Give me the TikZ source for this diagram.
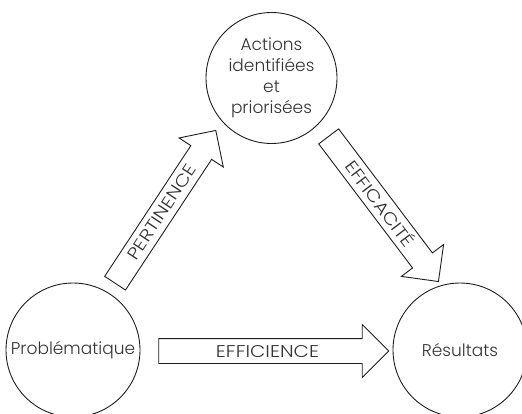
\documentclass[tikz,border=0pt]{standalone}
\usepackage{fontspec}
\setmainfont{Poppins Light}
\usetikzlibrary{shapes.arrows}
\definecolor{ink}{HTML}{1E1E1E}
\definecolor{txt}{HTML}{333333}
\tikzset{
  stage/.style={circle, draw=ink, line width=0.9pt, text=txt,
    inner sep=0pt, align=center, font=\fontsize{17}{21}\selectfont},
  blockarrow/.style={single arrow, draw=ink, line width=0.9pt, text=txt,
    single arrow head extend=14pt, single arrow head indent=0pt,
    font=\fontsize{17}{19}\selectfont\addfontfeature{FakeStretch=1.17},
    text height=12pt, text depth=0pt, inner ysep=6pt, inner xsep=0pt}
}
\begin{document}
\begin{tikzpicture}[x=1pt, y=-1pt]
  \useasboundingbox (0,0) rectangle (522,413);
  % the three stages
  \node[stage, minimum size=131pt] (act) at (271.5,78)
    {Actions\\identifiées\\et\\priorisées};
  \node[stage, minimum size=134pt] (prob) at (73,350) {Problématique};
  \node[stage, minimum size=134pt] (res) at (460,350) {Résultats};
  % block arrows between the stages
  \node[blockarrow, minimum height=183pt, rotate=56.6] (pert)
    at (162,212) {PERTINENCE};
  \node[blockarrow, minimum height=182pt, rotate=-52.9] (effa)
    at (379.8,204) {EFFICACITÉ};
  \node[blockarrow, minimum height=230pt] (effi)
    at (267.5,351) {EFFICIENCE};
\end{tikzpicture}
\end{document}
